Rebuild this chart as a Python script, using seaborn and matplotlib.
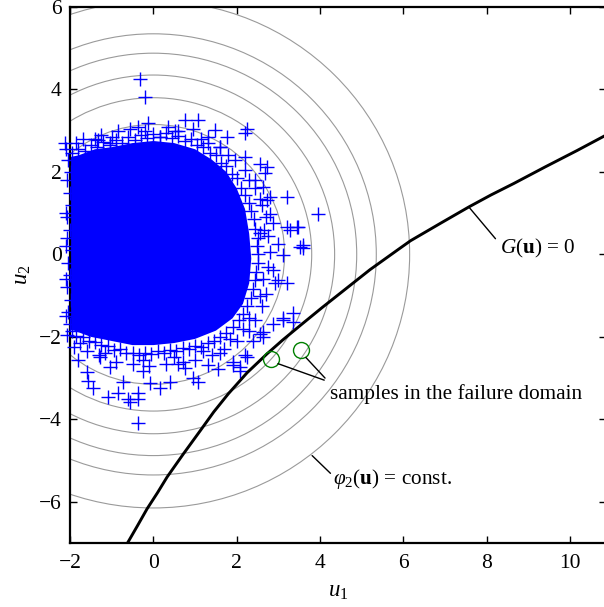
import numpy as np
import pandas as pd
import matplotlib
matplotlib.use("Agg")
import matplotlib.pyplot as plt
from matplotlib.patches import Circle
import seaborn as sns

# ---------------- data ----------------
# dense core of the sample cloud (outline of the solid blue region)
core_u1 = [-2.3, -1.8, -1.4, -1.0, -0.5, 0.0, 0.5, 1.0, 1.4, 1.75, 2.0, 2.2, 2.3, 2.35, 2.3, 2.15, 1.9, 1.5, 1.0, 0.5, 0.0, -0.5, -1.0, -1.5, -1.9, -2.3]
core_u2 = [2.3, 2.4, 2.55, 2.6, 2.7, 2.75, 2.7, 2.55, 2.3, 2.0, 1.6, 1.1, 0.5, -0.1, -0.7, -1.2, -1.55, -1.85, -2.05, -2.15, -2.2, -2.2, -2.1, -2.0, -1.85, -1.75]

# samples on the ragged edge of the cloud
edge_u1 = [
    -1.95, -1.8, -1.65, -1.5, -1.35, -1.2, -1.05, -0.9, -0.75, -0.6, -0.45, -0.3, -0.15, 0.0, 0.15, 0.3, 0.45, 0.6,
    0.75, 0.9, 1.05, 1.2, 1.35, 1.5, 1.62, 1.75, 1.88, 2.0, 2.1, 2.2, 2.3, 2.35, 2.42, 2.45, 2.5, 2.48, 2.52, 2.5,
    2.47, 2.45, 2.4, 2.35, 2.25, 2.15, 2.05, 1.9, 1.75, 1.6, 1.45, 1.3, 1.15, 1.0, 0.85, 0.7, 0.55, 0.4, 0.25, 0.1,
    -0.05, -0.2, -0.35, -0.5, -0.65, -0.8, -0.95, -1.1, -1.25, -1.4, -1.55, -1.7, -1.85, -1.95,
    # second, sparser ring
    -1.7, -1.25, -0.85, -0.55, 0.35, 0.95, 1.3, 1.6, 1.95, 2.2, 2.45, 2.6, 2.7, 2.75, 2.8, 2.75, 2.7, 2.6, 2.45,
    2.3, 2.0, 1.7, 1.4, 1.0, 0.7, 0.3, -0.1, -0.5, -0.9, -1.3, -1.6, -1.9,
    # third ring
    -1.85, -1.4, -1.0, -0.2, 0.6, 1.15, 1.8, 2.3, 2.55, 2.65, 2.62, 2.55, 2.3, 2.15, 1.85, 1.2, 0.5, -0.25, -1.15, -1.75,
    # left edge (markers reaching past the axis)
    -2.05, -1.97, -2.08, -2.0, -1.95, -2.06, -2.0, -2.08, -1.96, -2.04, -2.0, -2.08, -1.97, -2.05, -2.0, -2.06,
    -2.1, -2.1, -2.1, -2.1, -2.12, -2.1,
]
edge_u2 = [
    2.45, 2.55, 2.5, 2.65, 2.6, 2.72, 2.65, 2.78, 2.7, 2.85, 2.78, 2.9, 2.82, 2.92, 2.85, 2.95, 2.82, 2.88,
    2.75, 2.8, 2.65, 2.6, 2.45, 2.4, 2.22, 2.15, 1.95, 1.85, 1.6, 1.45, 1.25, 1.05, 0.85, 0.62, 0.4, 0.2, 0.0, -0.2,
    -0.42, -0.62, -0.85, -1.05, -1.25, -1.45, -1.6, -1.75, -1.9, -2.0, -2.1, -2.15, -2.25, -2.22, -2.3, -2.28, -2.35, -2.32, -2.4, -2.35,
    -2.42, -2.38, -2.45, -2.38, -2.4, -2.3, -2.32, -2.22, -2.2, -2.12, -2.1, -2.0, -1.98, -1.85,
    2.8, 2.9, 3.0, 3.05, 3.1, 3.05, 2.85, 2.6, 2.3, 2.05, 1.6, 1.2, 0.9, 0.45, 0.05, -0.3, -0.95, -1.25, -1.6,
    -1.85, -2.1, -2.3, -2.45, -2.55, -2.6, -2.65, -2.7, -2.65, -2.6, -2.45, -2.35, -2.25,
    2.7, 2.8, 2.85, 3.0, 3.0, 2.8, 2.4, 1.8, 1.35, 0.6, -0.6, -1.0, -1.55, -1.8, -2.05, -2.35, -2.5, -2.55, -2.4, -2.15,
    2.3, 2.0, 1.8, 1.5, 1.2, 0.9, 0.6, 0.4, 0.1, -0.2, -0.5, -0.8, -1.1, -1.4, -1.7, -1.95,
    2.55, 1.0, -0.6, -1.5, 2.7, 0.2,
]

# individual outlying samples
out_u1 = [
    -0.33, -0.19, -0.12, 0.77, 1.08, 1.49, 1.77, 2.25, 2.2, 2.73, 2.57, 2.21, 2.45, 2.64, 2.73, 3.21, 3.96,
    2.88, 3.21, 3.45, 3.53, 3.12, 0.53, -0.36, -1.34, -1.03, 0.17, 1.30, 1.61, -1.82, 2.81, 2.57, 2.98,
    3.29, 3.58, 3.58, 3.48, 2.81, 2.69,
    3.21, 2.88, 2.98, 2.93, 3.36, 3.1, 3.34, 2.64, 2.62, 2.21, 2.09, 3.12, 2.88, 2.57, 2.25, 1.92, 1.54,
    1.06, 0.94, 0.41, 0.17, -0.07, -0.36, -0.36, -0.62, -0.55, -0.86, -1.10, -1.44, -1.58, -0.72, -0.38,
    -1.80, -1.27, -1.03, -0.24, 0.58, 1.30, 1.61, 2.09, 2.40, 0.75, -1.6, 1.9,
]
out_u2 = [
    4.25, 3.82, 3.18, 3.25, 3.25, 3.01, 2.84, 3.05, 2.95, 2.12, 2.2, 2.36, 1.8, 1.63, 1.31, 1.38, 0.99,
    0.75, 0.66, 0.66, 0.17, -0.02, 3.0, 3.08, 2.77, 2.69, 2.84, 2.69, 2.6, 2.2, 0.99, 0.51, 0.26,
    0.58, 0.22, 0.15, 0.66, 1.38, 1.97,
    -0.70, -0.39, -0.63, -0.70, -1.43, -1.55, -1.65, -1.89, -2.01, -2.45, -2.74, -1.6, -1.68, -1.92, -2.5, -2.69, -2.77,
    -3.1, -2.99, -3.1, -3.23, -3.13, -3.37, -3.5, -3.5, -3.59, -3.37, -3.47, -3.25, -3.06, -3.1, -4.08,
    -2.57, -2.5, -2.74, -2.82, -2.65, -2.69, -2.4, -2.82, -2.09, -2.75, -2.85, -2.6,
]

# limit state curve G(u) = 0
g_u1 = [-0.62, -0.38, -0.15, 0.1, 0.33, 0.72, 1.13, 1.45, 1.80, 2.25, 2.73, 3.1, 3.53, 4.05, 4.6, 5.2,
        5.85, 6.17, 6.9, 7.57, 8.1, 8.65, 9.4, 10.17, 10.95]
g_u2 = [-7.0, -6.58, -6.17, -5.78, -5.40, -4.84, -4.27, -3.82, -3.38, -2.87, -2.41, -2.08, -1.72, -1.29, -0.85, -0.37,
        0.10, 0.33, 0.76, 1.15, 1.44, 1.72, 2.12, 2.52, 2.94]

# radii of the density contours phi_2(u) = const.
radii = [3.15, 3.80, 4.35, 4.88, 5.35, 6.15]

# samples in the failure domain
fail_u1 = [2.82, 3.54]
fail_u2 = [-2.53, -2.33]

# ---------------- style ----------------
sns.set_style("ticks")
plt.rcParams["font.family"] = ["Liberation Serif", "DejaVu Serif"]
plt.rcParams["mathtext.fontset"] = "custom"
plt.rcParams["mathtext.rm"] = "Liberation Serif"
plt.rcParams["mathtext.it"] = "Liberation Serif:italic"
plt.rcParams["mathtext.bf"] = "Liberation Serif:bold"
plt.rcParams["axes.unicode_minus"] = True
for k in ["text.color", "axes.labelcolor", "xtick.color", "ytick.color"]:
    plt.rcParams[k] = "black"

fig = plt.figure(figsize=(6.04, 6.07), dpi=100)
ax = fig.add_axes([70 / 604, 64 / 607, 535.5 / 604, 536 / 607])

BLUE = "#0000ff"

# contours
for r in radii:
    ax.add_patch(Circle((0, 0), r, fill=False, edgecolor="#9a9a9a", linewidth=0.8, zorder=1))

# dense core
ax.fill(core_u1, core_u2, color=BLUE, linewidth=0, zorder=2)

# samples
df = pd.DataFrame({"u1": edge_u1 + out_u1, "u2": edge_u2 + out_u2})
sns.scatterplot(data=df, x="u1", y="u2", marker="+", s=115, color=BLUE,
                linewidth=1.0, ax=ax, zorder=3, clip_on=False, legend=False)

# limit state curve
gdf = pd.DataFrame({"u1": g_u1, "u2": g_u2})
sns.lineplot(data=gdf, x="u1", y="u2", sort=False, color="black", linewidth=2.1,
             ax=ax, zorder=4, estimator=None)

# failure samples
ax.plot(fail_u1, fail_u2, linestyle="none", marker="o", markersize=11.5,
        markerfacecolor="none", markeredgecolor="#008000", markeredgewidth=1.0, zorder=5)

# annotations
FS = 15.3
ax.plot([2.99, 4.1], [-2.65, -3.05], color="black", linewidth=1.0, zorder=5)
ax.plot([3.66, 4.12], [-2.5, -3.0], color="black", linewidth=1.0, zorder=5)
ax.text(4.25, -3.5, "samples in the failure domain", fontsize=FS, ha="left", va="baseline")

ax.plot([7.57, 8.21], [1.15, 0.38], color="black", linewidth=1.0, zorder=5)
ax.text(8.33, 0.03, r"$G(\mathbf{u})$ = 0", fontsize=FS, ha="left", va="baseline")

ax.plot([3.81, 4.25], [-4.88, -5.31], color="black", linewidth=1.0, zorder=5)
ax.text(4.32, -5.56, r"$\varphi_2(\mathbf{u})$ = const.", fontsize=FS, ha="left", va="baseline")

# axes
ax.set_xlim(-2, 10.85)
ax.set_ylim(-7, 6)
ax.set_xticks([-2, 0, 2, 4, 6, 8, 10])
ax.set_yticks([-6, -4, -2, 0, 2, 4, 6])
ax.tick_params(direction="in", length=5, width=1.0, top=True, right=True,
               labelsize=15.5, colors="black")
ax.tick_params(axis="x", pad=8)
ax.tick_params(axis="y", pad=6)
for sp in ax.spines.values():
    sp.set_linewidth(1.6)
    sp.set_color("black")
ax.set_xlabel(r"$u_1$", fontsize=16.5, labelpad=6)
ax.set_ylabel(r"$u_2$", fontsize=16.5, labelpad=4)

fig.savefig("out.png", dpi=100)
